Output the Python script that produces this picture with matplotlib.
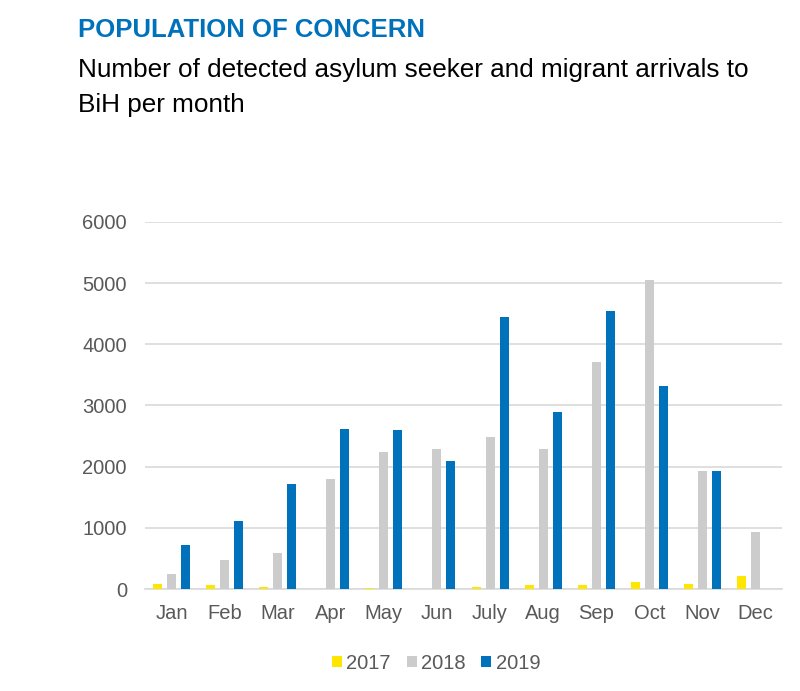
import numpy as np
import matplotlib.pyplot as plt

plt.rcParams['font.family'] = ['Liberation Sans', 'DejaVu Sans']

months = ['Jan', 'Feb', 'Mar', 'Apr', 'May', 'Jun', 'July', 'Aug', 'Sep', 'Oct', 'Nov', 'Dec']
arrivals_2017 = [80, 65, 30, 0, 10, 0, 25, 60, 60, 110, 80, 210]
arrivals_2018 = [240, 475, 590, 1800, 2235, 2290, 2485, 2295, 3710, 5050, 1930, 930]
arrivals_2019 = [725, 1115, 1720, 2620, 2600, 2095, 4450, 2895, 4545, 3320, 1930, 0]

series = [('2017', arrivals_2017, '#FFE600'),
          ('2018', arrivals_2018, '#CCCCCC'),
          ('2019', arrivals_2019, '#0072BC')]

fig = plt.figure(figsize=(8, 6.91), dpi=100)
ax = fig.add_axes([0.18125, 0.1476, 0.79625, 0.5314])

x = np.arange(len(months))
w = 0.17
for i, (lab, vals, col) in enumerate(series):
    ax.bar(x + (i - 1) * 0.264, vals, width=w, color=col, label=lab, zorder=3)

ax.set_ylim(0, 6000)
ax.set_xlim(-0.5, 11.5)
ax.set_yticks(range(0, 6001, 1000))
ax.set_xticks(x)
ax.set_xticklabels(months)
ax.grid(axis='y', color='#D9D9D9', linewidth=1.2, zorder=0)
for s in ['top', 'right', 'left']:
    ax.spines[s].set_visible(False)
ax.spines['bottom'].set_color('#D9D9D9')
ax.spines['bottom'].set_linewidth(1.2)
ax.tick_params(axis='both', length=0, labelsize=14.5, colors='#595959')
ax.tick_params(axis='y', pad=13)
ax.tick_params(axis='x', pad=10.5)

fig.legend(*ax.get_legend_handles_labels(), loc='center',
           bbox_to_anchor=(0.545, 0.0405), ncol=3, frameon=False,
           fontsize=14.5, labelcolor='#595959', handlelength=0.5, handleheight=0.5,
           handletextpad=0.2, columnspacing=0.8, borderpad=0)

fig.text(0.0975, 0.9465, 'POPULATION OF CONCERN', fontsize=18.5, fontweight='bold',
         color='#0072BC', va='baseline')
fig.text(0.0975, 0.8886, 'Number of detected asylum seeker and migrant arrivals to',
         fontsize=18.8, color='black', va='baseline')
fig.text(0.0975, 0.8379, 'BiH per month', fontsize=18.8, color='black', va='baseline')

fig.savefig('out.png', dpi=100)
